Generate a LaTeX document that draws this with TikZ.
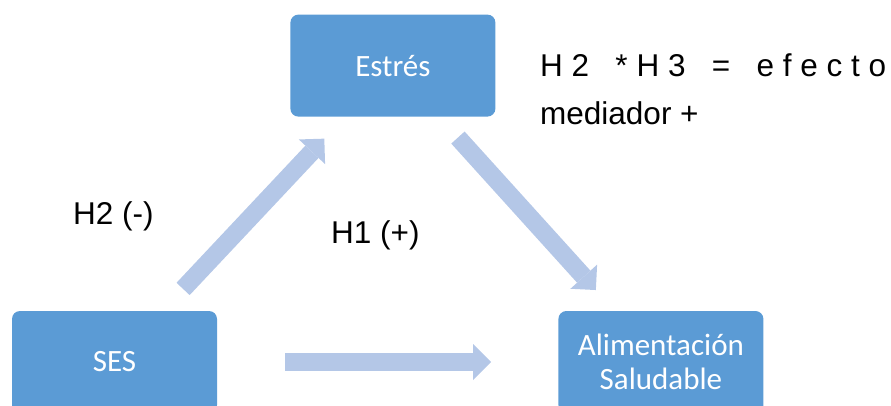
\documentclass[tikz,border=0pt]{standalone}
\usepackage{fontspec}
\setmainfont{Carlito}
\newfontfamily\arialfont{Liberation Sans}
\usepackage{xcolor}
\usepackage{tikz}
\usetikzlibrary{arrows.meta, positioning}

\definecolor{cajaazul}{HTML}{5B9BD5}
\definecolor{flechaazul}{HTML}{B4C7E7}

\begin{document}
\begin{tikzpicture}[x=1pt, y=-1pt,
  caja/.style={rectangle, rounded corners=8pt, fill=cajaazul, text=white, minimum width=205pt, minimum height=102pt, inner sep=0pt, align=center, font=\fontsize{31}{34}\selectfont},
  flecha/.style={draw=flechaazul, line width=18pt, -{Triangle[length=18pt, width=36pt, line width=0pt]}},
  texto/.style={anchor=base west, inner sep=0pt, font=\arialfont\fontsize{31.5}{36}\selectfont}]
\useasboundingbox (0,0) rectangle (891,406);
\clip (0,0) rectangle (891,406);
% Cajas
\node[caja] (ses) at (114.5,362) {SES};
\node[caja, right=341pt of ses] (alim) {Alimentación\\Saludable};
\node[caja, above right=194pt and 73pt of ses] (estres) {Estrés};

% Flechas
\draw[flecha, shorten <=30pt, shorten >=30pt] (ses) -- (estres);
\draw[flecha, shorten <=28pt, shorten >=28pt] (estres) -- (alim);
\draw[flecha, shorten <=68pt, shorten >=67pt] (ses) -- (alim);

% Etiquetas
\node[texto] (h2) at (73,225) {H2 (-)};
\node[texto] (h1) at (331,243) {H1 (+)};
\node[texto] (efecto1) at (540,77) {\makebox[346pt][s]{H\hfill 2\hfill\ \hfill *\hfill H\hfill 3\hfill\ \hfill =\hfill\ \hfill e\hfill f\hfill e\hfill c\hfill t\hfill o}};
\node[texto] (efecto2) at ([yshift=-48pt]efecto1.base west) {mediador +};
\end{tikzpicture}
\end{document}
